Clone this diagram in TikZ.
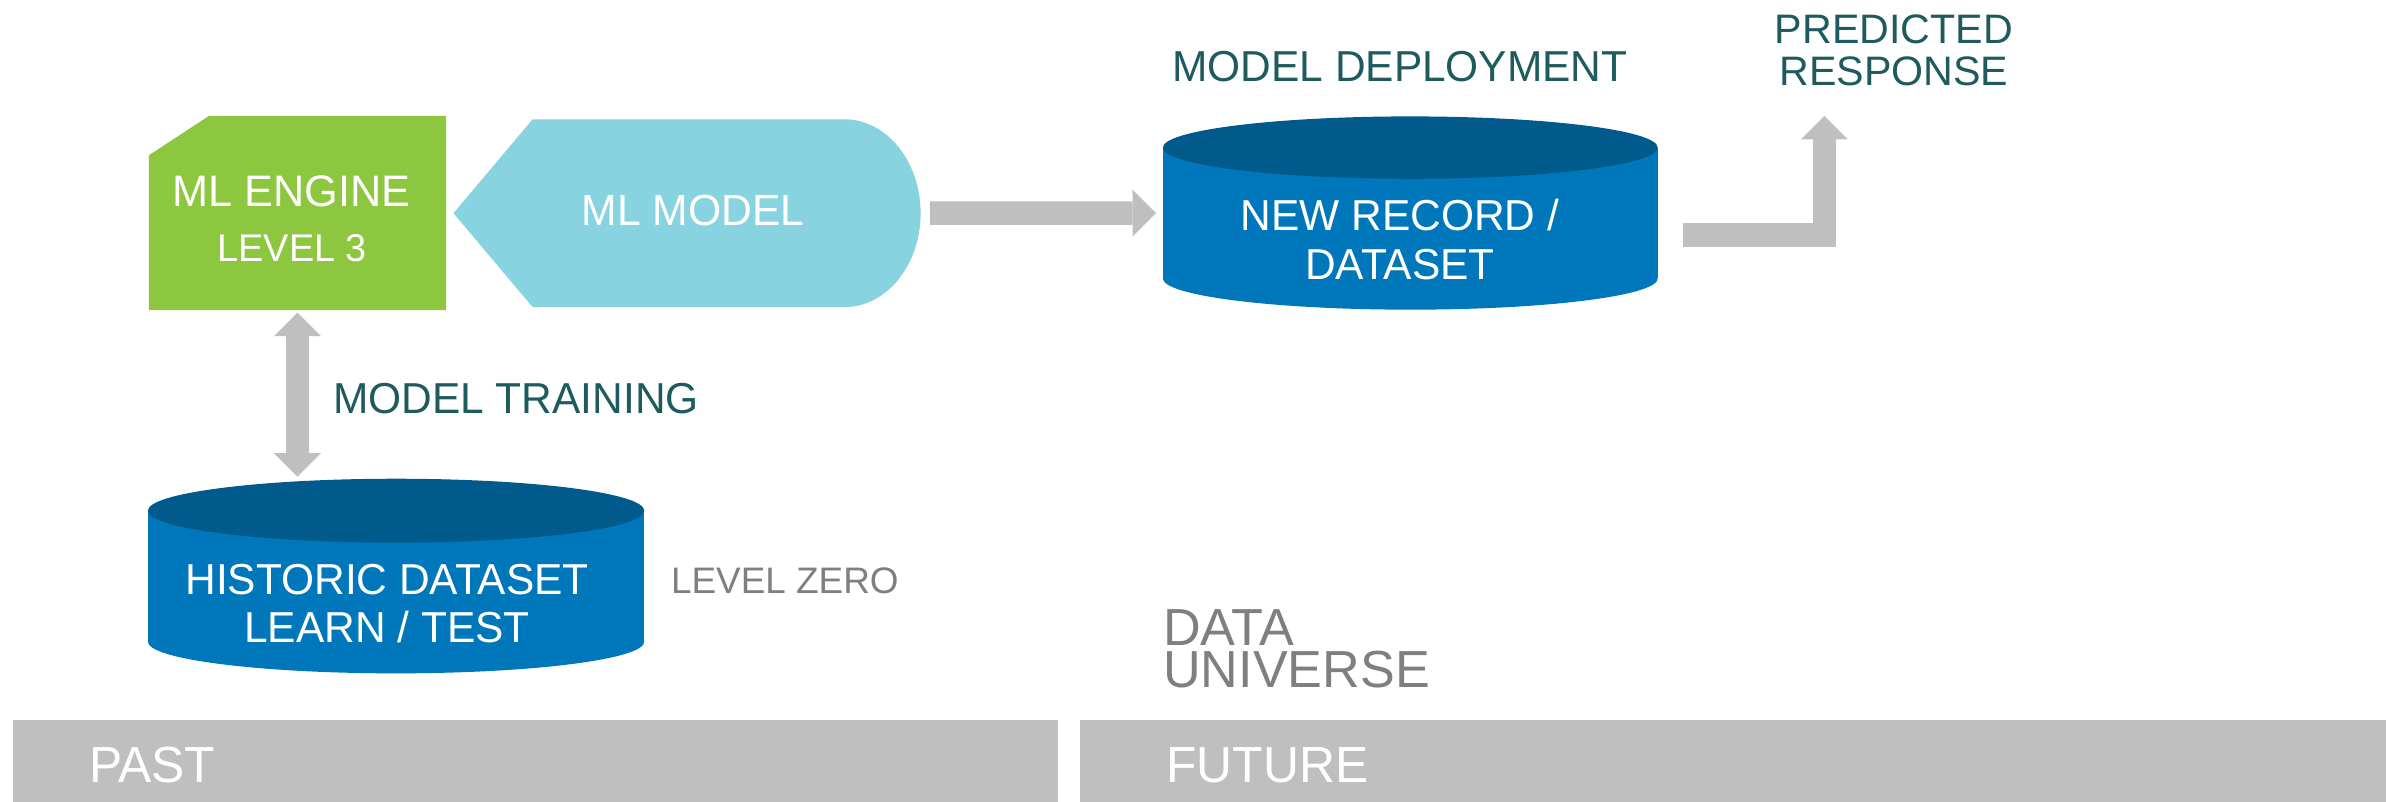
\documentclass[tikz,border=0pt]{standalone}
\usepackage{fontspec}
\setmainfont{Liberation Sans}
\newfontfamily\narrowsans[FakeStretch=0.98]{Liberation Sans}
\usetikzlibrary{arrows.meta,calc,fit}

\definecolor{enginegreen}{HTML}{8DC63F}
\definecolor{modelcyan}{HTML}{87D3DF}
\definecolor{cylbody}{HTML}{0077BB}
\definecolor{cyltop}{HTML}{005A8C}
\definecolor{arrowgray}{HTML}{BFBFBF}
\definecolor{tealtext}{HTML}{1E5A5E}
\definecolor{graytext}{HTML}{7F7F7F}

\begin{document}
\begin{tikzpicture}[x=0.02cm, y=-0.02cm,
  every node/.style={inner sep=0pt, outer sep=0pt},
  area/.style={inner sep=0pt, outer sep=0pt},
  bar/.style={area, fill=arrowgray},
  whitelbl/.style={text=white, font=\narrowsans\fontsize{16.2pt}{16.2pt}\selectfont},
  teallbl/.style={text=tealtext, font=\narrowsans\fontsize{16.2pt}{16.2pt}\selectfont},
  predlbl/.style={text=tealtext, align=center, font=\fontsize{15.4pt}{15.93pt}\selectfont},
  levellbl/.style={text=graytext, font=\fontsize{13.8pt}{13.8pt}\selectfont},
  universelbl/.style={text=graytext, align=left, font=\fontsize{19.5pt}{15.8pt}\selectfont},
  timelbl/.style={text=white, font=\narrowsans\fontsize{19pt}{19pt}\selectfont},
  blockarrow/.style={draw=arrowgray, line width=8.8pt, line cap=butt, line join=miter,
    >={Triangle[width=17.6pt, length=8.8pt, line width=0pt]}}
]
\useasboundingbox (0,0) rectangle (1568,527);

% ---- shape areas ----
\node[area, fit={(97.9,76.2) (293.1,203.8)}] (engine) {};
\node[area, fit={(298,78.4) (605,201.8)}] (model) {};
\node[area, fit={(764.2,76.5) (1089.4,203.5)}] (newrec) {};
\node[area, fit={(97.2,314.3) (423.4,442.5)}] (hist) {};

% ML engine: square with a cut top-left corner
\fill[enginegreen] (engine.south west) -- ($(engine.north west)+(0,25.8)$)
  -- ($(engine.north west)+(39.4,0)$) -- (engine.north east) -- (engine.south east) -- cycle;

% ML model: pointed left end, rounded right end
\fill[modelcyan] (298,140.1) -- (350,78.4) -- (555,78.4)
  arc[start angle=-90, end angle=90, x radius=50, y radius=61.7]
  -- (350,201.8) -- cycle;

% database cylinders
\fill[cylbody] (764.2,97) rectangle (1089.4,183);
\fill[cylbody] (926.8,183) ellipse[x radius=162.6, y radius=20.5];
\fill[cyltop] (926.8,97) ellipse[x radius=162.6, y radius=20.5];

\fill[cylbody] (97.2,335.6) rectangle (423.4,421.7);
\fill[cylbody] (260.3,421.7) ellipse[x radius=163.1, y radius=20.8];
\fill[cyltop] (260.3,335.6) ellipse[x radius=163.1, y radius=21];

% time bands
\node[bar, fit={(8.3,473.2) (695,527)}] (past) {};
\node[bar, fit={(710,473.2) (1568,527)}] (future) {};

% ---- labels (multi-line nodes sit on the baseline of their last line) ----
\node[whitelbl, anchor=base, font=\narrowsans\fontsize{16.5pt}{16.5pt}\selectfont] (engine1) at (191.5,136) {ML ENGINE};
\node[whitelbl, anchor=base, font=\narrowsans\fontsize{14.45pt}{14.45pt}\selectfont] (engine2) at (192,172) {LEVEL 3};
\node[whitelbl, anchor=base, font=\narrowsans\fontsize{16.3pt}{16.3pt}\selectfont] (modeltxt) at (455.5,148) {ML MODEL};
\node[whitelbl, anchor=base] (rec1) at (920,151.8) {NEW RECORD /};
\node[whitelbl, anchor=base] (rec2) at (920,183.5) {DATASET};
\node[whitelbl, anchor=base] (hist1) at (254.4,391) {HISTORIC DATASET};
\node[whitelbl, anchor=base] (hist2) at (254.3,422.3) {LEARN / TEST};

\node[teallbl, anchor=base] (deploy) at (920,53.7) {MODEL DEPLOYMENT};
\node[teallbl, anchor=base west] (training) at (219,271.6) {MODEL TRAINING};
\node[predlbl, anchor=base] (pred) at (1244.6,56.5) {PREDICTED\\RESPONSE};

\node[levellbl, anchor=base west] (level0) at (441,389.9) {LEVEL ZERO};
\node[universelbl, anchor=base west] (universe) at (764.5,451.7) {DATA\\UNIVERSE};

\node[timelbl, anchor=base west] (pasttxt) at (58.5,514.3) {PAST};
\node[timelbl, anchor=base west] (futuretxt) at (766.5,514.3) {FUTURE};

% ---- connectors ----
\draw[blockarrow, ->] ($(model.east)+(6,0)$) -- ($(newrec.west)+(-4.5,0)$);
\draw[blockarrow, <->] ($(engine.south)+(0,1.7)$) -- ($(engine.south |- hist.north)+(0,-1)$);
\draw[blockarrow, ->] ($(newrec.east)+(16.6,14.6)$) -| ($(pred.base)+(-45.7,19.7)$);
\end{tikzpicture}
\end{document}
